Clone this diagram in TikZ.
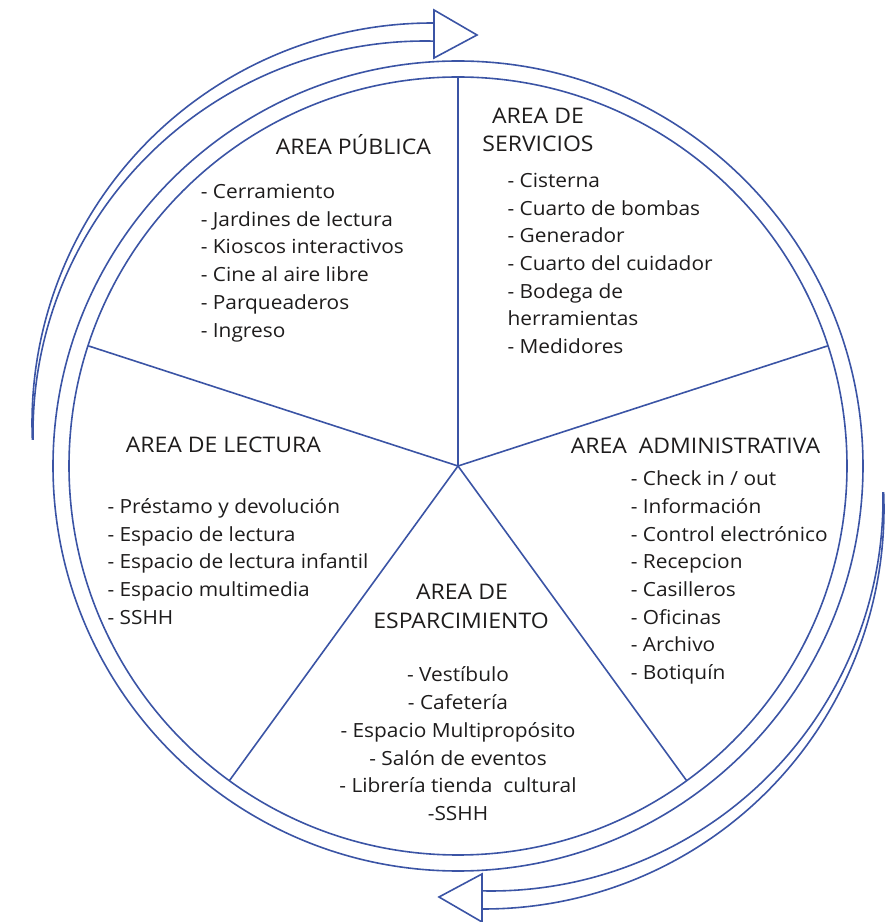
\documentclass[tikz,border=0pt]{standalone}
\usepackage{fontspec}
\setmainfont{Open Sans}[FakeStretch=1.07]
\usepackage{tikz}
\usetikzlibrary{positioning}
\definecolor{linea}{RGB}{59,84,165}
\definecolor{texto}{RGB}{30,28,28}

\begin{document}
\begin{tikzpicture}[x=1pt, y=1pt, line width=1.6pt,
  every node/.style={font=\fontsize{19.5}{28}\selectfont, text=texto, inner sep=0pt},
  titulo/.style={anchor=base west, font=\fontsize{21.5}{28}\selectfont},
  titulocentro/.style={anchor=base, font=\fontsize{21.5}{28}\selectfont},
  item/.style={anchor=base west},
  itemcentro/.style={anchor=base}]
  \useasboundingbox (0,0) rectangle (890,922);
  \coordinate (C) at (458,456);
  \draw[linea] (C) circle[radius=389];
  \draw[linea] (C) circle[radius=405];
  \foreach \a in {18,90,162,234,306}
    \draw[linea] (C) -- ++(\a:389);
  \foreach \r in {0,180} {
    \begin{scope}[rotate around={\r:(458,456)}]
      \draw[linea] (425,489) ++(88.7:392) arc[start angle=88.7, end angle=181, radius=392];
      \draw[linea] (432,499) ++(89.7:400) arc[start angle=89.7, end angle=182.4, radius=400];
      \draw[linea, fill=white] (434,912) -- (477,887) -- (434,864) -- cycle;
    \end{scope}
  }

  \node[titulo] (pubT) at (275,767) {AREA PÚBLICA};
  \foreach \t [count=\i] in {Cerramiento, Jardines de lectura, Kioscos interactivos,
      Cine al aire libre, Parqueaderos, Ingreso}
    \node[item] (pub\i) at (200,{723.7-27.8*(\i-1)}) {- \t};

  \node[titulocentro] (serT1) at (538,798.7) {AREA DE};
  \node[titulocentro] (serT2) at (538,770.3) {SERVICIOS};
  \foreach \t [count=\i] in {- Cisterna, - Cuarto de bombas, - Generador,
      - Cuarto del cuidador, - Bodega de, herramientas, - Medidores}
    \node[item] (ser\i) at (506.7,{734.3-27.6*(\i-1)}) {\t};

  \node[titulo] (admT) at (570,468.7) {AREA\ \ ADMINISTRATIVA};
  \foreach \t [count=\i] in {Check in / out, Información, Control electrónico,
      Recepcion, Casilleros, Oficinas, Archivo, Botiquín}
    \node[item] (adm\i) at (630,{436.3-27.7*(\i-1)}) {- \t};

  \node[titulo] (lecT) at (125,469.7) {AREA DE LECTURA};
  \foreach \t [count=\i] in {Préstamo y devolución, Espacio de lectura,
      Espacio de lectura infantil, Espacio multimedia, SSHH}
    \node[item] (lec\i) at (106.7,{408.7-27.8*(\i-1)}) {- \t};

  \node[titulocentro] (espT1) at (462,322) {AREA DE};
  \node[titulocentro] (espT2) at (461,293.7) {ESPARCIMIENTO};
  \foreach \t [count=\i] in {- Vestíbulo, - Cafetería, - Espacio Multipropósito,
      - Salón de eventos, - Librería tienda\ \ cultural, -SSHH}
    \node[itemcentro] (esp\i) at (458,{240.3-27.8*(\i-1)}) {\t};
\end{tikzpicture}
\end{document}
